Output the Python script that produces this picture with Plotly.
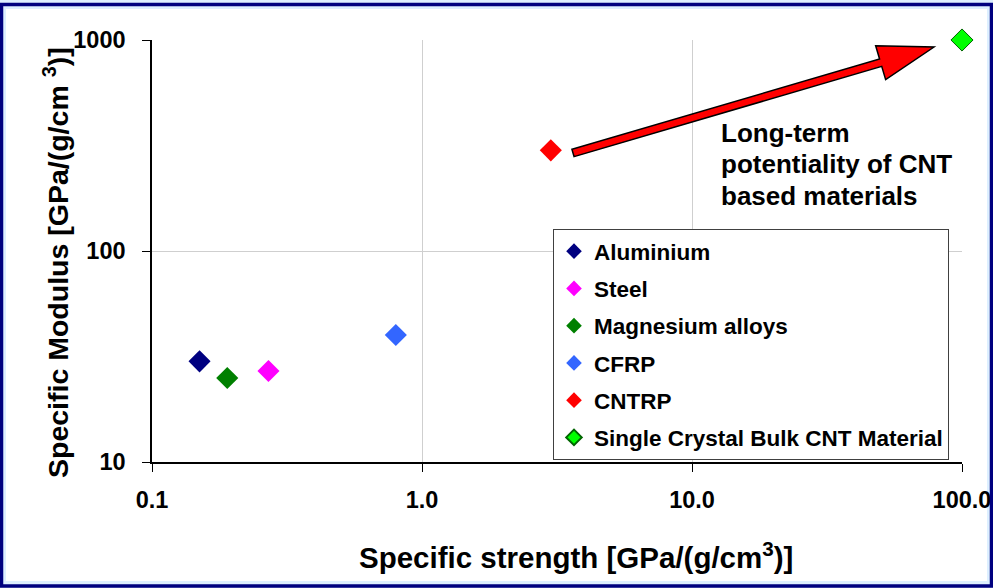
import math
import plotly.graph_objects as go

# ---- data ----
materials = ["Aluminium", "Steel", "Magnesium alloys", "CFRP", "CNTRP",
             "Single Crystal Bulk CNT Material"]
specific_strength = [0.15, 0.27, 0.19, 0.80, 3.0, 100.0]
specific_modulus = [30, 27, 25, 40, 300, 1000]
colors = ["#000080", "#FF00FF", "#008000", "#3366FF", "#FF0000", "#00FF00"]
outline = ["#000080", "#FF00FF", "#008000", "#3366FF", "#FF0000", "#006400"]

x_tickvals = [0.1, 1, 10, 100]
x_ticktext = ["0.1", "1.0", "10.0", "100.0"]
y_tickvals = [10, 100, 1000]
y_ticktext = ["10", "100", "1000"]

annotation_lines = ["Long-term", "potentiality of CNT", "based materials"]

# ---- layout geometry ----
W, H = 993, 588
L, R, T, B = 152, 31, 40, 126
PW, PH = W - L - R, H - T - B
FONT = "Liberation Sans, Arial, Helvetica, sans-serif"


def px2paper(px, py):
    return (px - L) / PW, (T + PH - py) / PH


fig = go.Figure()
for i, name in enumerate(materials):
    fig.add_trace(go.Scatter(
        x=[specific_strength[i]], y=[specific_modulus[i]], mode="markers",
        name=name, legendgroup=name,
        marker=dict(symbol="diamond", size=17, color=colors[i],
                    line=dict(color=outline[i], width=1 if i == 5 else 0)),
        cliponaxis=False,
    ))

shapes = []
# white interior + navy frame around the whole picture (page bg is light blue)
x0, y0 = px2paper(6, 9)
x1, y1 = px2paper(W - 6, H - 7)
shapes.append(dict(type="rect", xref="paper", yref="paper", x0=x0, y0=y0, x1=x1, y1=y1,
                   fillcolor="white", line=dict(width=0), layer="below"))
x0, y0 = px2paper(1.5, 4.5)
x1, y1 = px2paper(W - 1.5, H - 2)
shapes.append(dict(type="rect", xref="paper", yref="paper", x0=x0, y0=y0, x1=x1, y1=y1,
                   line=dict(color="#00007F", width=3.5), layer="above"))

# big red arrow (pixel geometry)
sx, sy = 573, 153
tx, ty = 934, 47
dx, dy = tx - sx, ty - sy
ln = math.hypot(dx, dy)
ux, uy = dx / ln, dy / ln
nx, ny = -uy, ux
head_len, head_hw, shaft_hw = 55.6, 17.7, 3.8
hx, hy = tx - ux * head_len, ty - uy * head_len
pts = [
    (sx + nx * shaft_hw, sy + ny * shaft_hw),
    (hx + nx * shaft_hw, hy + ny * shaft_hw),
    (hx + nx * head_hw, hy + ny * head_hw),
    (tx, ty),
    (hx - nx * head_hw, hy - ny * head_hw),
    (hx - nx * shaft_hw, hy - ny * shaft_hw),
    (sx - nx * shaft_hw, sy - ny * shaft_hw),
]
path = ""
for k, (px, py) in enumerate(pts):
    X, Y = px2paper(px, py)
    path += ("M" if k == 0 else "L") + f"{X:.5f},{Y:.5f}"
path += "Z"
shapes.append(dict(type="path", xref="paper", yref="paper", path=path,
                   fillcolor="#FF0000", line=dict(color="#000000", width=1.5),
                   layer="above"))

annotations = []
for line_text, cy in zip(annotation_lines, [133, 164, 196]):
    ax_, ay_ = px2paper(719, cy)
    annotations.append(dict(xref="paper", yref="paper", x=ax_, y=ay_, xanchor="left",
                            yanchor="middle", align="left", showarrow=False,
                            text=line_text,
                            font=dict(family=FONT, size=26, color="#000000",
                                      weight="bold")))
ax_, ay_ = px2paper(576, 555)
annotations.append(dict(xref="paper", yref="paper", x=ax_, y=ay_, xanchor="center",
                        yanchor="middle", showarrow=False,
                        text="Specific strength [GPa/(g/cm<sup>3</sup>)]",
                        font=dict(family=FONT, size=29.5, color="#000000", weight="bold")))
ax_, ay_ = px2paper(56, 263)
annotations.append(dict(xref="paper", yref="paper", x=ax_, y=ay_, xanchor="center",
                        yanchor="middle", showarrow=False, textangle=-90,
                        text="Specific Modulus [GPa/(g/cm <sup>3</sup>)]",
                        font=dict(family=FONT, size=28.5, color="#000000", weight="bold")))

lx, ly = px2paper(553, 229)
fig.update_layout(
    width=W, height=H,
    margin=dict(l=L, r=R, t=T, b=B, pad=0, autoexpand=False),
    paper_bgcolor="#DDEFFF", plot_bgcolor="white",
    font=dict(family=FONT, color="#000000"),
    showlegend=True,
    legend=dict(x=lx, y=ly, xanchor="left", yanchor="top",
                bgcolor="white", bordercolor="#404040", borderwidth=1,
                font=dict(family=FONT, size=22.5, color="#000000", weight="bold"),
                itemsizing="constant", tracegroupgap=5),
    shapes=shapes, annotations=annotations,
    xaxis=dict(type="log", range=[-1, 2], tickvals=x_tickvals, ticktext=x_ticktext,
               automargin=False,
               showgrid=True, gridcolor="#CFCFCF", gridwidth=1,
               showline=True, linecolor="#000000", linewidth=1.5,
               ticks="outside", ticklen=8, tickcolor="#000000", tickwidth=1,
               ticklabelstandoff=8,
               tickfont=dict(family=FONT, size=23.5, color="#000000", weight="bold"),
               zeroline=False),
    yaxis=dict(type="log", range=[1, 3], tickvals=y_tickvals, ticktext=y_ticktext,
               automargin=False,
               showgrid=True, gridcolor="#CFCFCF", gridwidth=1,
               showline=True, linecolor="#000000", linewidth=1.5,
               ticks="outside", ticklen=8, tickcolor="#000000", tickwidth=1,
               ticklabelstandoff=12,
               tickfont=dict(family=FONT, size=23.5, color="#000000", weight="bold"),
               zeroline=False),
)

fig.write_html("out.html", config={"displayModeBar": False},
               post_script="document.body.style.margin='0px';"
                           "document.body.style.overflow='hidden';")
